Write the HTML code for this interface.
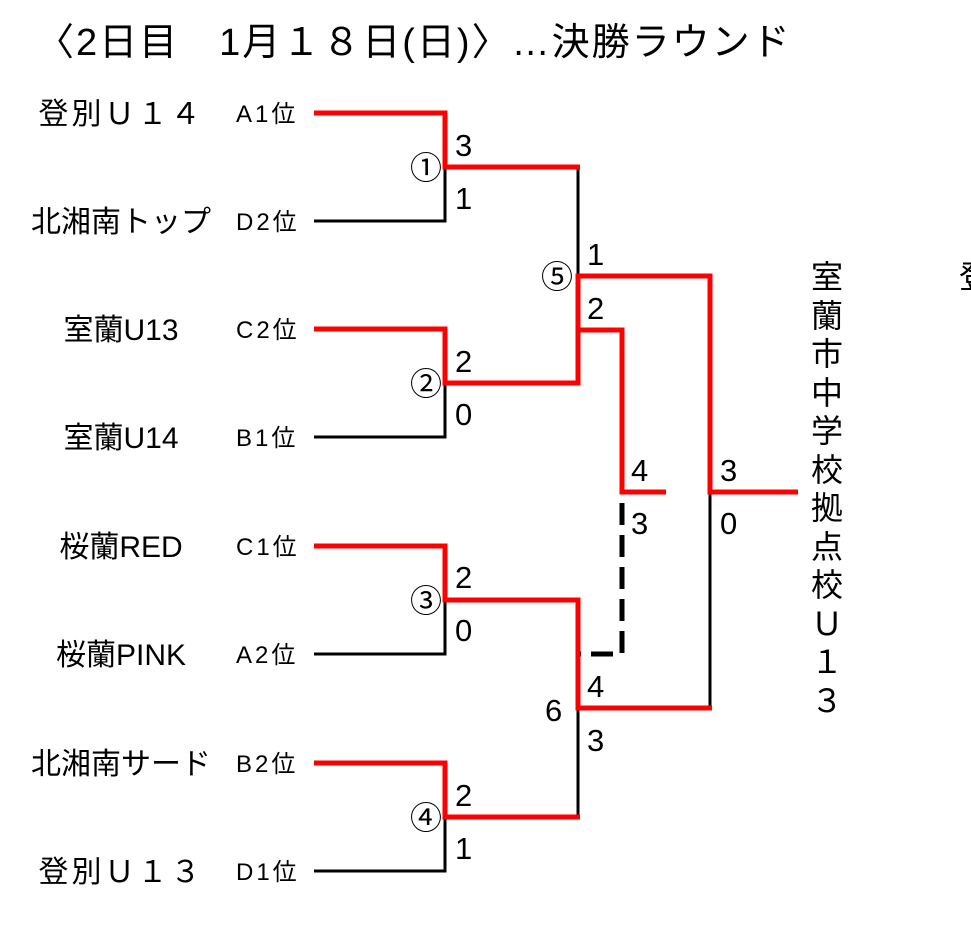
<!DOCTYPE html>
<html><head><meta charset="utf-8"><style>
body{margin:0;background:#fff}
svg{display:block}
text{font-family:"Liberation Sans","Noto Sans CJK JP",sans-serif;fill:#000}
</style></head><body>
<svg width="971" height="931" xmlns="http://www.w3.org/2000/svg">
<text x="36" y="55" font-size="38" letter-spacing="2">〈2日目　1月１８日(日)〉…決勝ラウンド</text>
<g font-size="30" text-anchor="middle">
<text x="121" y="124" letter-spacing="3">登別Ｕ１４</text>
<text x="121" y="232">北湘南トップ</text>
<text x="121" y="340">室蘭U13</text>
<text x="121" y="448">室蘭U14</text>
<text x="121" y="557">桜蘭RED</text>
<text x="121" y="665">桜蘭PINK</text>
<text x="121" y="774">北湘南サード</text>
<text x="121" y="882" letter-spacing="3">登別Ｕ１３</text>
</g>
<g font-size="24" letter-spacing="3">
<text x="236" y="122">A1位</text>
<text x="236" y="230">D2位</text>
<text x="236" y="338">C2位</text>
<text x="236" y="446">B1位</text>
<text x="236" y="555">C1位</text>
<text x="236" y="663">A2位</text>
<text x="236" y="772">B2位</text>
<text x="236" y="880">D1位</text>
</g>
<g fill="none" stroke="#000" stroke-width="3">
<polyline points="314,221 445,221 445,167"/>
<polyline points="314,437 445,437 445,383"/>
<polyline points="314,654 445,654 445,600"/>
<polyline points="314,871 445,871 445,817"/>
<line x1="578" y1="167" x2="578" y2="276"/>
<line x1="578" y1="708" x2="578" y2="817"/>
<line x1="710" y1="492" x2="710" y2="708"/>
<polyline points="622,503 622,654 578,654" stroke-width="5" stroke-dasharray="22,10"/>
</g>
<g fill="none" stroke="#f00" stroke-width="5">
<polyline points="314,113 445,113 445,167 580,167"/>
<polyline points="314,329 445,329 445,383 578,383 578,276 710,276 710,492 798,492"/>
<polyline points="578,330 622,330 622,492 666,492"/>
<polyline points="314,546 445,546 445,600 578,600 578,708 712,708"/>
<polyline points="314,763 445,763 445,817 580,817"/>
</g>
<g font-size="31">
<text x="455" y="156">3</text><text x="455" y="209">1</text>
<text x="455" y="372">2</text><text x="455" y="425">0</text>
<text x="455" y="588">2</text><text x="455" y="641">0</text>
<text x="455" y="806">2</text><text x="455" y="859">1</text>
<text x="587" y="265">1</text><text x="587" y="319">2</text>
<text x="631" y="481">4</text><text x="631" y="534">3</text>
<text x="720" y="481">3</text><text x="720" y="534">0</text>
<text x="587" y="697">4</text><text x="587" y="751">3</text>
<text x="545" y="721">6</text>
</g>
<g font-size="32" text-anchor="middle">
<text x="426" y="179">①</text>
<text x="426" y="395">②</text>
<text x="426" y="612">③</text>
<text x="426" y="829">④</text>
<text x="557" y="288">⑤</text>
</g>
<g font-size="32" text-anchor="middle">
<text x="827" y="288">室</text><text x="827" y="327">蘭</text><text x="827" y="365">市</text>
<text x="827" y="404">中</text><text x="827" y="442">学</text><text x="827" y="481">校</text>
<text x="827" y="519">拠</text><text x="827" y="558">点</text><text x="827" y="596">校</text>
<text x="827" y="635">Ｕ</text><text x="827" y="673">１</text><text x="827" y="712">３</text>
<text x="975" y="288">登</text>
</g>
</svg>
</body></html>
